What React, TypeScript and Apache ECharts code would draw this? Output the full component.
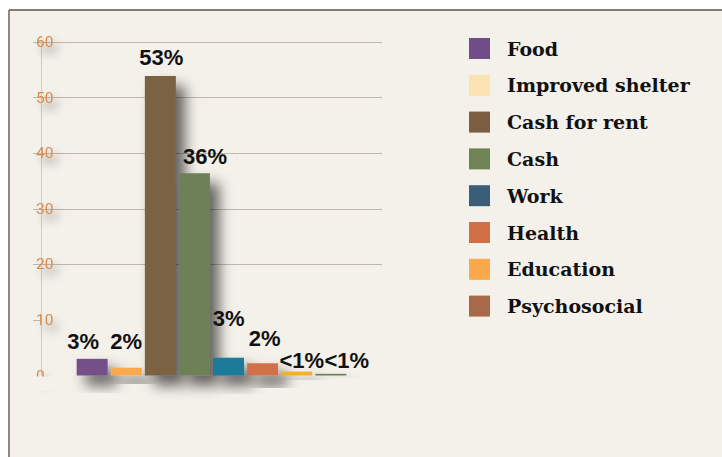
import React, { useEffect, useRef } from 'react';
import * as echarts from 'echarts';

// ---- data ----
const categories = ['Food', 'Improved shelter', 'Cash for rent', 'Cash', 'Work', 'Health', 'Education', 'Psychosocial'];
const values = [3.0, 1.4, 53.9, 36.4, 3.2, 2.2, 0.7, 0.3];
const valueLabels = ['3%', '2%', '53%', '36%', '3%', '2%', '<1%', '<1%'];
const yTickValues = [10, 20, 30, 40, 50, 60];

// ---- styling ----
const barColors = ['#744F89', '#FBA94F', '#7A6243', '#6E8156', '#1A7A9A', '#D0714A', '#F2B12B', '#6D7F52'];
const legendColors = ['#6F4D86', '#FBE3B1', '#7B5E42', '#6E8455', '#3A5E78', '#D06E45', '#F9A84A', '#A8694A'];
const labelDistance = [6, 15, 7, 6, 28.5, 14, 0.5, 2.5];
const labelShiftX = [-9, 0, 1, 10.5, 0, 2, 5, 16];
const PAPER = '#F4F0EA';

export default function App() {
  const ref = useRef<HTMLDivElement>(null);
  useEffect(() => {
    if (!ref.current) return;
    const chart = echarts.init(ref.current, undefined, { renderer: 'svg' });
    const series = categories.map((name, i) => ({
      type: 'bar',
      name,
      data: [values[i]],
      barWidth: 31,
      barGap: '10%',
      itemStyle: {
        color: barColors[i],
        shadowBlur: 14,
        shadowOffsetX: 9,
        shadowOffsetY: 10,
        shadowColor: 'rgba(0,0,0,0.6)',
      },
      label: {
        show: true,
        position: 'top',
        distance: labelDistance[i],
        offset: [labelShiftX[i], 0],
        formatter: valueLabels[i],
        fontFamily: 'Liberation Sans',
        fontWeight: 'bold',
        fontSize: 22,
        color: '#111',
      },
    }));
    chart.setOption({
      animation: false,
      backgroundColor: PAPER,
      grid: { left: 41, right: 340, top: 42, bottom: 81.5, containLabel: false },
      xAxis: {
        type: 'category',
        data: [''],
        axisLine: { show: false },
        axisTick: { show: false },
        axisLabel: { show: false },
      },
      yAxis: {
        type: 'value',
        min: 0,
        max: 60,
        interval: 10,
        axisLine: { show: true, lineStyle: { color: '#EDC4A0', width: 1 } },
        axisTick: { show: true, length: 8, customValues: yTickValues, lineStyle: { color: '#BDB7AE' } },
        axisLabel: {
          color: '#D98A4E',
          fontFamily: 'Roboto',
          fontSize: 15.5,
          align: 'left',
          margin: 5,
          textShadowColor: 'rgba(0,0,0,0.4)',
          textShadowBlur: 8,
          textShadowOffsetX: 5,
          textShadowOffsetY: 7,
        },
        splitLine: { show: true, showMinLine: false, lineStyle: { color: '#BDB7AE', width: 1 } },
      },
      legend: {
        orient: 'vertical',
        left: 464,
        top: 33,
        itemWidth: 21,
        itemHeight: 21,
        itemGap: 15.8,
        icon: 'rect',
        data: categories.map((name, i) => ({ name, itemStyle: { color: legendColors[i] } })),
        textStyle: {
          fontFamily: 'DejaVu Serif',
          fontWeight: 'bold',
          fontSize: 19,
          color: '#111',
          padding: [0, 0, 0, 12],
        },
        selectedMode: false,
      },
      graphic: [
        { type: 'rect', shape: { x: 0, y: 0, width: 722, height: 10 }, style: { fill: '#fff' }, z: 0 },
        { type: 'rect', shape: { x: 0, y: 0, width: 9, height: 457 }, style: { fill: '#fff' }, z: 0 },
        { type: 'line', shape: { x1: 9, y1: 10, x2: 722, y2: 10 }, style: { stroke: '#5B5345', lineWidth: 1.5 }, z: 1 },
        { type: 'line', shape: { x1: 9, y1: 10, x2: 9, y2: 457 }, style: { stroke: '#6B6458', lineWidth: 1.5 }, z: 1 },
        { type: 'rect', shape: { x: 30, y: 376.5, width: 30, height: 14 }, style: { fill: PAPER }, z: 1 },
      ],
      series,
    });
    return () => chart.dispose();
  }, []);
  return (
    <div style={{ position: 'absolute', left: 0, top: 0 }}>
      <div ref={ref} style={{ width: 722, height: 457 }} />
    </div>
  );
}
